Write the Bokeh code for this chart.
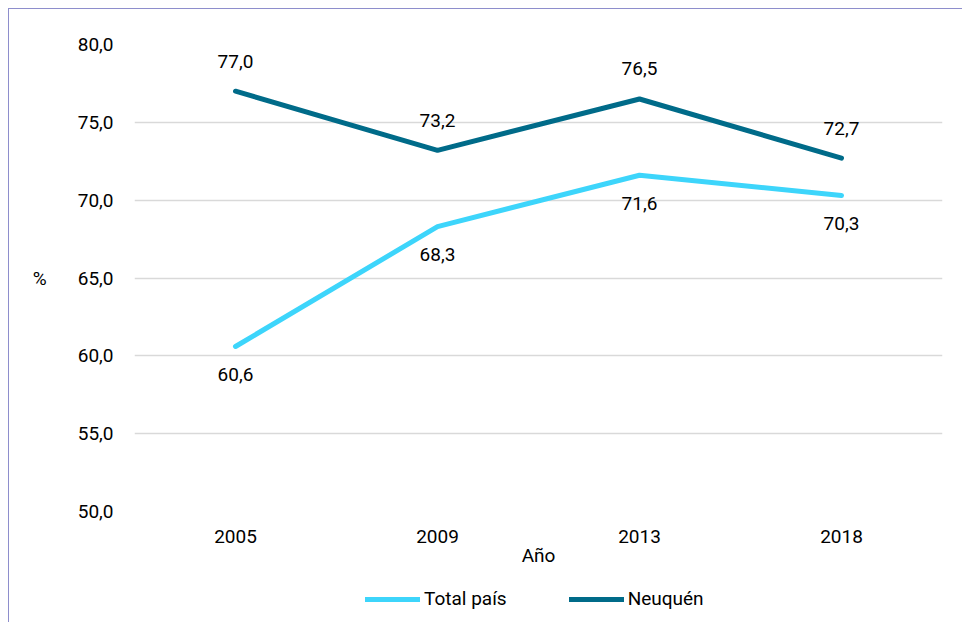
from bokeh.plotting import figure
from bokeh.layouts import column
from bokeh.models import ColumnDataSource, LabelSet, FixedTicker, Legend, LegendItem, Range1d
from bokeh.core.properties import value
from bokeh.embed import file_html
from bokeh.resources import INLINE

years = ["2005", "2009", "2013", "2018"]
total_pais = [60.6, 68.3, 71.6, 70.3]
neuquen = [77.0, 73.2, 76.5, 72.7]
y_ticks = [50, 55, 60, 65, 70, 75, 80]
series_names = ["Total país", "Neuquén"]

FONT = "Roboto"
FS = "19px"
C_TOTAL = "#3dd5fb"
C_NEU = "#006b89"

p = figure(x_range=years, y_range=(50, 80), width=953, height=569,
           output_backend="svg", toolbar_location=None,
           min_border_left=125, min_border_right=20, min_border_top=35, min_border_bottom=67)
p.outline_line_color = None
p.background_fill_color = "white"
p.border_fill_color = "white"

src = ColumnDataSource(dict(
    x=years, tp=total_pais, nq=neuquen,
    tp_lbl=[f"{v:.1f}".replace(".", ",") for v in total_pais],
    nq_lbl=[f"{v:.1f}".replace(".", ",") for v in neuquen],
))

p.line("x", "tp", source=src, line_color=C_TOTAL, line_width=5, line_cap="round")
p.line("x", "nq", source=src, line_color=C_NEU, line_width=5, line_cap="round")

for col, lbl, off in (("tp", "tp_lbl", -28), ("nq", "nq_lbl", 30)):
    ls = LabelSet(x="x", y=col, text=lbl, source=src, y_offset=off,
                  text_align="center", text_baseline="middle",
                  text_font=value(FONT), text_font_size=FS, text_color="#000000")
    p.add_layout(ls)

p.xgrid.grid_line_color = None
p.ygrid.grid_line_color = "#d9d9d9"
p.ygrid.grid_line_width = 1.5

p.yaxis.ticker = FixedTicker(ticks=y_ticks)
p.yaxis.major_label_overrides = {t: f"{t:.1f}".replace(".", ",") for t in y_ticks}
for ax in (p.xaxis[0], p.yaxis[0]):
    ax.axis_line_color = None
    ax.major_tick_line_color = None
    ax.minor_tick_line_color = None
    ax.major_label_text_font = FONT
    ax.major_label_text_font_size = FS
    ax.major_label_text_color = "#000000"
    ax.axis_label_text_font = FONT
    ax.axis_label_text_font_size = FS
    ax.axis_label_text_font_style = "normal"
    ax.axis_label_text_color = "#000000"

p.yaxis.axis_label = "%"
p.yaxis.axis_label_orientation = "horizontal"
p.yaxis.major_label_standoff = 15
p.yaxis.axis_label_standoff = 28

p.xaxis.axis_label = "Año"
p.xaxis.major_label_standoff = 12
p.xaxis.axis_label_standoff = -2

# legend in its own strip below the chart
lg = figure(width=953, height=44, output_backend="svg", toolbar_location=None,
            x_range=Range1d(0, 1), y_range=Range1d(0, 1),
            x_axis_location=None, y_axis_location=None,
            min_border=0)
lg.outline_line_color = None
lg.xgrid.grid_line_color = None
lg.ygrid.grid_line_color = None
d_tp = lg.line(x=[5, 6], y=[5, 6], line_color=C_TOTAL, line_width=5, line_cap="round")
d_nq = lg.line(x=[5, 6], y=[5, 6], line_color=C_NEU, line_width=5, line_cap="round")

legend = Legend(items=[LegendItem(label=series_names[0], renderers=[d_tp]),
                       LegendItem(label=series_names[1], renderers=[d_nq])],
                orientation="horizontal", location=(231, 12),
                border_line_color=None, background_fill_alpha=0,
                padding=0, margin=0, spacing=62, label_standoff=4,
                glyph_width=55, glyph_height=20, label_height=20,
                label_text_font=FONT, label_text_font_size=FS,
                label_text_color="#000000")
lg.add_layout(legend, "center")

layout = column(p, lg, spacing=0)
layout.styles = {"margin-left": "8px", "margin-top": "8px",
                 "border-left": "1px solid #8e8ecc", "border-top": "1px solid #8e8ecc"}

open("out.html", "w").write(file_html(layout, INLINE))
